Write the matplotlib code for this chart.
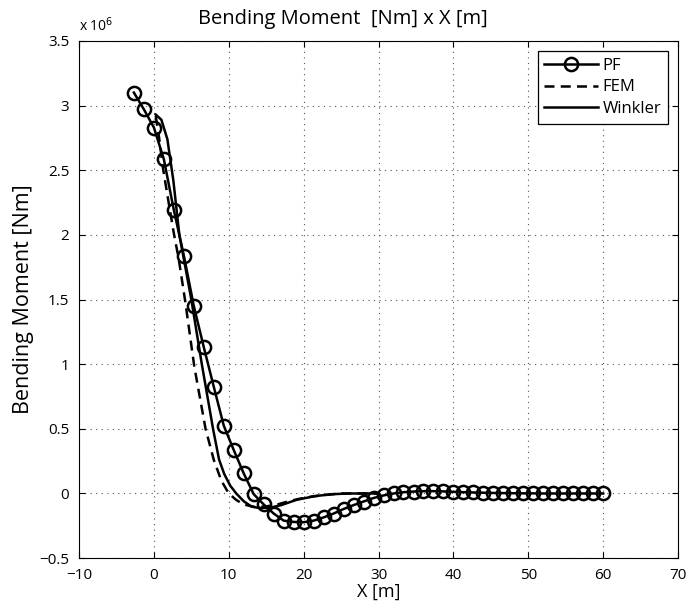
import numpy as np
import matplotlib
matplotlib.use("Agg")
import matplotlib.pyplot as plt

# PF (markers), x in m, moment in 1e6 Nm
pf_x = [-2.67, -1.33, 0.0, 1.33, 2.67, 4.0, 5.33, 6.67, 8.0, 9.33, 10.67, 12.0,
        13.33, 14.67, 16.0, 17.33, 18.67, 20.0, 21.33, 22.67, 24.0, 25.33, 26.67,
        28.0, 29.33, 30.67, 32.0, 33.33, 34.67, 36.0, 37.33, 38.67, 40.0, 41.33,
        42.67, 44.0, 45.33, 46.67, 48.0, 49.33, 50.67, 52.0, 53.33, 54.67, 56.0,
        57.33, 58.67, 60.0]
pf_m = [3.10, 2.97, 2.83, 2.585, 2.19, 1.84, 1.45, 1.13, 0.825, 0.525, 0.335, 0.155,
        -0.005, -0.085, -0.155, -0.21, -0.22, -0.222, -0.21, -0.185, -0.155, -0.12, -0.09,
        -0.062, -0.035, -0.015, 0.0, 0.01, 0.015, 0.018, 0.018, 0.016, 0.013, 0.01,
        0.008, 0.006, 0.004, 0.003, 0.002, 0.001, 0.001, 0.0, 0.0, 0.0, 0.0,
        0.0, 0.0, 0.0]

# FEM (dashed)
fem_x = [0.25, 0.7, 1.2, 2.0, 2.7, 3.3, 4.2, 5.4, 6.9, 8.0, 9.0, 10.0, 11.0, 12.0,
         13.5, 15.0, 16.5, 18.0, 19.5, 21.0, 23.0, 25.0, 30.0]
fem_m = [2.92, 2.75, 2.52, 2.24, 2.0, 1.82, 1.48, 0.98, 0.5, 0.26, 0.1, 0.0, -0.05, -0.085,
         -0.105, -0.1, -0.085, -0.06, -0.04, -0.025, -0.01, 0.0, 0.0]

# Winkler (solid)
wink_x = [0.25, 1.0, 1.8, 2.6, 3.4, 5.0, 6.4, 7.9, 8.7, 9.4, 10.2, 11.0, 12.0, 13.0,
          14.0, 15.5, 17.0, 19.0, 21.5, 24.0, 26.0, 30.0]
wink_m = [2.93, 2.89, 2.74, 2.42, 2.0, 1.5, 1.0, 0.5, 0.263, 0.15, 0.06, 0.0, -0.06, -0.1,
          -0.112, -0.11, -0.09, -0.05, -0.02, -0.005, 0.0, 0.0]

xticks = [-10, 0, 10, 20, 30, 40, 50, 60, 70]
yticks = [-0.5, 0, 0.5, 1, 1.5, 2, 2.5, 3, 3.5]
yticklabels = ["\u22120.5", "0", "0.5", "1", "1.5", "2", "2.5", "3", "3.5"]

plt.rcParams['font.family'] = ['Open Sans', 'DejaVu Sans']

fig = plt.figure(figsize=(6.87, 6.10), dpi=100)
ax = fig.add_axes([0.115, 0.085, 0.872, 0.848])

ax.plot(pf_x, pf_m, color='black', lw=1.8, marker='o', ms=9.5, mfc='none',
        mec='black', mew=1.8, label='PF', zorder=3)
ax.plot(fem_x, fem_m, color='black', lw=1.8, ls=(0, (4, 2.5)), label='FEM', zorder=2)
ax.plot(wink_x, wink_m, color='black', lw=1.8, ls='-', label='Winkler', zorder=2)

ax.set_xlim(-10, 70)
ax.set_ylim(-0.5, 3.5)
ax.set_xticks(xticks)
ax.set_yticks(yticks)
ax.set_yticklabels(yticklabels)
ax.tick_params(direction='in', length=4, width=0.8, top=True, right=True,
               labelsize=11, pad=7)
ax.grid(True, ls=(0, (1, 4)), color='#555555', lw=0.8)
for s in ax.spines.values():
    s.set_linewidth(0.8)

ax.set_title('Bending Moment  [Nm] x X [m]', fontsize=14.5, pad=12, x=0.44)
ax.set_xlabel('X [m]', fontsize=13, labelpad=0)
ax.set_ylabel('Bending Moment [Nm]', fontsize=15.5, labelpad=4)
ax.text(0.0, 1.012, 'x 10$^{6}$', transform=ax.transAxes, fontsize=10,
        ha='left', va='bottom')

leg = ax.legend(loc='upper right', fontsize=12, handlelength=3.2, frameon=True,
                fancybox=False, edgecolor='black', framealpha=1,
                borderpad=0.4, labelspacing=0.35, handletextpad=0.3,
                borderaxespad=0.6)
leg.get_frame().set_linewidth(0.9)
for h in leg.legend_handles:
    if h.get_marker() == 'o':
        h.set_markevery([1])

fig.savefig('out.png', dpi=100)
